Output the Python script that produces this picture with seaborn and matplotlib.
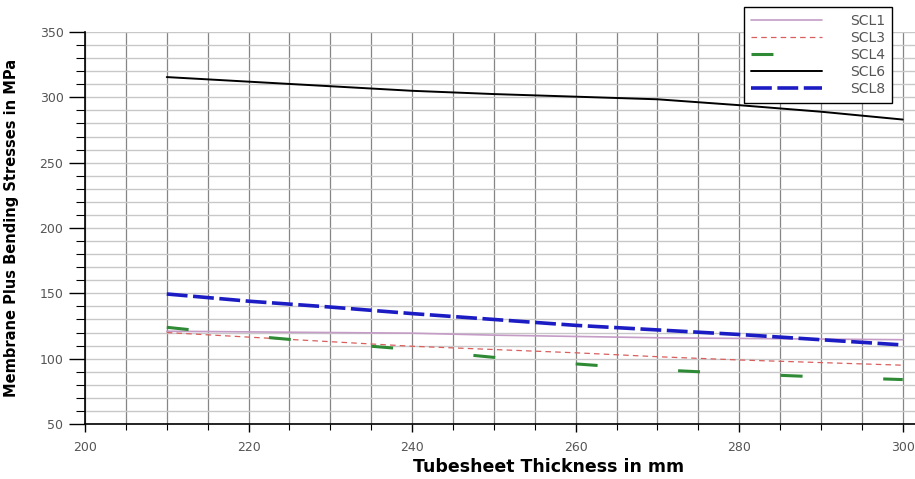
import numpy as np
import pandas as pd
import seaborn as sns
import matplotlib.pyplot as plt
from matplotlib.ticker import MultipleLocator

# values
thickness = [210, 220, 230, 240, 250, 260, 270, 280, 290, 300]
scl1 = [121, 120.5, 120, 119.5, 118, 117, 116, 115.5, 115, 114.5]
scl3 = [120, 116.5, 113, 109.5, 107, 104.5, 101.5, 99, 97, 95]
scl4 = [124, 117.5, 112, 107, 101, 96, 91.5, 88.5, 86, 84]
scl6 = [315.5, 312, 308.5, 305, 302.5, 300.5, 298.5, 294, 289, 283]
scl8 = [149.5, 144, 139.5, 134.5, 130, 125.5, 122, 118.5, 114.5, 110.5]

sns.set_style("ticks")
plt.rcParams['font.family'] = ['DejaVu Sans']
plt.rcParams['lines.scale_dashes'] = False

df = pd.DataFrame({'x': thickness, 'SCL1': scl1, 'SCL3': scl3, 'SCL4': scl4,
                   'SCL6': scl6, 'SCL8': scl8})

fig = plt.figure(figsize=(9.15, 4.79), dpi=100)
ax = fig.add_axes([85 / 915, 1 - 424 / 479, 1 - 85 / 915, (424 - 32) / 479])

styles = {
    'SCL1': dict(color='#c49cc6', lw=1.2, ls='-'),
    'SCL3': dict(color='#d95f5f', lw=0.9, ls=(0, (4, 3))),
    'SCL4': dict(color='#2f8a36', lw=2.2, ls=(0, (15.8, 58.1))),
    'SCL6': dict(color='black', lw=1.4, ls='-'),
    'SCL8': dict(color='#1c1cc4', lw=2.6, ls=(0, (15, 4))),
}
for name, st in styles.items():
    sns.lineplot(data=df, x='x', y=name, ax=ax, label=name, color=st['color'],
                 linewidth=st['lw'], linestyle=st['ls'])

ax.set_xlim(200, 301.5)
ax.set_ylim(50, 350)
ax.xaxis.set_major_locator(MultipleLocator(20))
ax.xaxis.set_minor_locator(MultipleLocator(5))
ax.yaxis.set_major_locator(MultipleLocator(50))
ax.yaxis.set_minor_locator(MultipleLocator(10))

ax.grid(which='both', axis='x', color='#858585', lw=0.9)
ax.grid(which='both', axis='y', color='#c8c8c8', lw=1.0)
ax.set_axisbelow(True)

for s in ['top', 'right']:
    ax.spines[s].set_visible(False)
for s in ['left', 'bottom']:
    ax.spines[s].set_color('black')
    ax.spines[s].set_linewidth(1.2)

ax.tick_params(axis='x', which='major', length=6, width=1, colors='black',
               labelcolor='#555555', labelsize=9, pad=6)
ax.tick_params(axis='x', which='minor', length=4, width=0.8, colors='black')
ax.tick_params(axis='y', which='major', length=11.5, width=1, colors='black',
               labelcolor='#555555', labelsize=9, pad=4)
ax.tick_params(axis='y', which='minor', length=6.5, width=0.8, colors='black')

ax.set_xlabel('Tubesheet Thickness in mm', fontsize=12.5, fontweight='bold',
              color='black')
ax.xaxis.set_label_coords(0.559, -0.11)
ax.xaxis.label.set_verticalalignment('center')
ax.set_ylabel('Membrane Plus Bending Stresses in MPa', fontsize=10.5,
              fontweight='bold', color='black')
ax.yaxis.set_label_coords(-0.088, 0.5)
ax.yaxis.label.set_verticalalignment('center')

leg = ax.legend(loc='upper right', bbox_to_anchor=(892 / 915, 1 - 7 / 479),
                bbox_transform=fig.transFigure, frameon=True, fancybox=False,
                fontsize=10, handlelength=5.1, handletextpad=2.0,
                labelspacing=0.22, borderpad=0.5, borderaxespad=0)
leg.get_frame().set_edgecolor('black')
leg.get_frame().set_linewidth(1.0)
leg.get_frame().set_alpha(1)
for t in leg.get_texts():
    t.set_color('#555555')

fig.savefig('out.png', dpi=100)
